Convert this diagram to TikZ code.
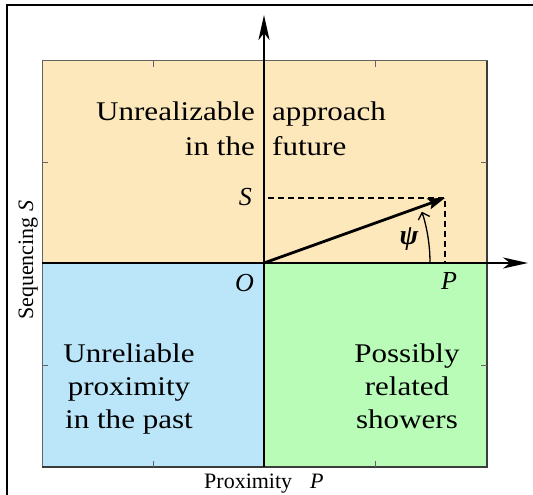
\documentclass[tikz,border=0pt]{standalone}
\usepackage{fontspec}
\setmainfont{Liberation Serif}
\newfontfamily\quadfont[FakeStretch=1.15]{Liberation Serif}
\usetikzlibrary{arrows.meta}
\definecolor{futurecol}{RGB}{253,232,188}
\definecolor{pastcol}{RGB}{187,230,250}
\definecolor{showercol}{RGB}{184,252,184}
\definecolor{edgecol}{RGB}{100,100,100}
\begin{document}
\begin{tikzpicture}[x=1pt,y=-1pt,
  quad/.style={font=\quadfont\fontsize{27}{33}\selectfont, inner sep=0pt},
  axlab/.style={font=\fontsize{22}{26}\selectfont, inner sep=0pt},
  ptlab/.style={font=\itshape\fontsize{26}{30}\selectfont, inner sep=0pt},
  axisline/.style={line width=2.6pt, -{Stealth[length=25pt,width=11pt,inset=7pt]}},
  tickmark/.style={edgecol, line width=1pt},
  guide/.style={line width=1.4pt, dash pattern=on 6pt off 4pt}]
\useasboundingbox (0,0) rectangle (533,495);
\fill[white] (0,0) rectangle (533,495);
% outer frame (cropped)
\draw[line width=2pt] (7,495) -- (7,5) -- (533,5);
% quadrants
\fill[futurecol] (42,61) rectangle (487,263);
\fill[pastcol] (42,263) rectangle (264,467);
\fill[showercol] (264,263) rectangle (487,467);
\draw[edgecol, line width=1pt] (42,61) rectangle (487,467);
\draw[edgecol!60!black, line width=1.6pt] (487,61) -- (487,467) -- (42,467);
% ticks
\foreach \tx in {153,375} {
  \draw[tickmark] (\tx,61) -- (\tx,67);
  \draw[tickmark] (\tx,467) -- (\tx,461);
}
\foreach \ty in {162,365} {
  \draw[tickmark] (42,\ty) -- (48,\ty);
  \draw[tickmark] (487,\ty) -- (481,\ty);
}
% quadrant texts
\node[quad, anchor=base east] (t1) at (255,120) {Unrealizable};
\node[quad, anchor=base east] (t2) at (255,155) {in the};
\node[quad, anchor=base west] (t3) at (272,120) {approach};
\node[quad, anchor=base west] (t4) at (272,155) {future};
\node[quad, anchor=base] (l1) at (129,362) {Unreliable};
\node[quad, anchor=base] (l2) at (129,395) {proximity};
\node[quad, anchor=base] (l3) at (129,428) {in the past};
\node[quad, anchor=base] (r1) at (407,362) {Possibly};
\node[quad, anchor=base] (r2) at (407,395) {related};
\node[quad, anchor=base] (r3) at (407,428) {showers};
% axes
\coordinate (O) at (264,263);
\coordinate (ytop) at (264,15);
\coordinate (ybot) at (264,467);
\coordinate (xleft) at (42,263);
\coordinate (xright) at (528,263);
\draw[axisline] (ybot) -- (ytop);
\draw[axisline] (xleft) -- (xright);
% vector and projections
\coordinate (V) at (445,198);
\coordinate (Sproj) at (268,198);
\coordinate (Pproj) at (445,263);
\draw[guide] (Sproj) -- (V) -- (Pproj);
\draw[line width=2.8pt, -{Stealth[length=17pt,width=11pt,inset=3pt]}] (O) -- (V);
\coordinate (arcstart) at (430,263);
\draw[line width=1.3pt, -{Straight Barb[length=6pt,width=12pt]}] (arcstart) arc[start angle=0, end angle=-18, radius=166];
\node[font=\bfseries\itshape\fontsize{28}{32}\selectfont, inner sep=0pt] (psi) at (409,239) {ψ};
% point labels
\node[ptlab, anchor=base east] (Slab) at (252,205) {S};
\node[ptlab, anchor=base east] (Olab) at (254,291) {O};
\node[ptlab, anchor=base west] (Plab) at (441,289) {P};
% axis titles
\node[axlab, anchor=base west] (xtitle) at (204,488) {Proximity\hspace{18pt}\textit{P}};
\node[axlab, anchor=base west, rotate=90] (ytitle) at (33,320) {Sequencing \textit{S}};
\end{tikzpicture}
\end{document}
